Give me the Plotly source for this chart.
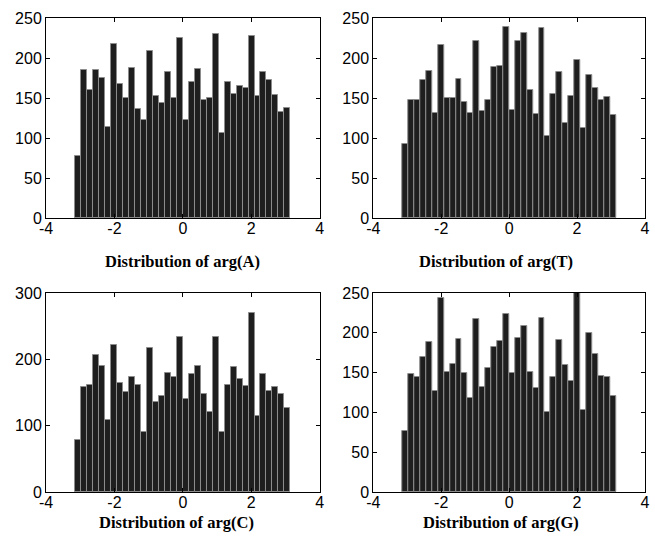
import numpy as np
import plotly.graph_objects as go
from plotly.subplots import make_subplots

# 36 histogram bins spanning [-pi, pi]
n_bins = 36
bin_edges = np.linspace(-np.pi, np.pi, n_bins + 1)
bin_centers = (bin_edges[:-1] + bin_edges[1:]) / 2
bin_width = bin_edges[1] - bin_edges[0]

counts_A = [78, 185, 160, 185, 175, 114, 217, 168, 150, 187, 136, 122,
            209, 153, 144, 182, 150, 225, 123, 170, 186, 147, 150, 230,
            106, 170, 155, 165, 163, 227, 152, 182, 173, 154, 133, 138]
counts_T = [92, 148, 147, 173, 184, 131, 216, 150, 150, 174, 145, 131,
            221, 134, 148, 189, 190, 239, 135, 221, 231, 160, 130, 237,
            103, 155, 182, 119, 153, 198, 112, 179, 162, 148, 151, 129]
counts_C = [79, 158, 161, 206, 190, 109, 221, 165, 151, 173, 161, 91,
            217, 136, 144, 180, 174, 234, 140, 178, 190, 147, 120, 233,
            90, 162, 188, 170, 160, 270, 114, 178, 153, 158, 147, 126]
counts_G = [77, 148, 144, 169, 189, 127, 244, 151, 161, 192, 149, 118,
            217, 132, 156, 182, 190, 223, 149, 194, 208, 151, 131, 218,
            100, 144, 191, 159, 140, 250, 103, 200, 173, 146, 145, 121]

titles = ["Distribution of arg(A)", "Distribution of arg(T)",
          "Distribution of arg(C)", "Distribution of arg(G)"]
y_ranges = [[0, 250], [0, 250], [0, 300], [0, 250]]
y_dticks = [50, 50, 100, 50]
x_ticks = [-4, -2, 0, 2, 4]

fig = make_subplots(rows=2, cols=2)
series = [counts_A, counts_T, counts_C, counts_G]
positions = [(1, 1), (1, 2), (2, 1), (2, 2)]

for s, (r, c) in zip(series, positions):
    fig.add_trace(go.Bar(
        x=bin_centers, y=s, width=bin_width,
        marker=dict(color="#1e1e1e", line=dict(color="#8c8c8c", width=1)),
        showlegend=False, hoverinfo="x+y"), row=r, col=c)

W, H = 655, 536
ml, mr, mt, mb = 45, 5, 18, 44
pw, ph = W - ml - mr, H - mt - mb
# panel pixel boxes: left 45..321, right 375..650 ; top 18..218, bottom 293..492
def xdom(a, b):
    return [(a - ml) / pw, (b - ml) / pw]
def ydom(top, bot):
    return [(H - mb - bot) / ph, (H - mb - top) / ph]
xd = [xdom(46, 322), xdom(376, 650)]
yd = [ydom(18, 218), ydom(293, 492)]

axis_font = dict(family="Liberation Sans, Arial, sans-serif", size=16, color="black")
for i, (r, c) in enumerate(positions):
    k = "" if i == 0 else str(i + 1)
    fig.layout["xaxis" + k].update(
        domain=xd[c - 1], range=[-4, 4], tickvals=x_ticks,
        ticktext=[str(v) for v in x_ticks],
        showline=True, linecolor="black", linewidth=1, mirror="ticks",
        ticks="inside", ticklen=4, tickcolor="black", ticklabelstandoff=-4,
        ticklabeloverflow="allow",
        showgrid=False, zeroline=False, tickfont=axis_font)
    fig.layout["yaxis" + k].update(
        domain=yd[r - 1], range=y_ranges[i], dtick=y_dticks[i],
        showline=True, linecolor="black", linewidth=1, mirror="ticks",
        ticks="inside", ticklen=4, tickcolor="black",
        showgrid=False, zeroline=False, tickfont=axis_font)

title_pos = [(184, 261), (500, 261), (178, 522), (505, 522)]
for t, (px, py) in zip(titles, title_pos):
    fig.add_annotation(
        text="<b>" + t + "</b>", xref="paper", yref="paper",
        x=(px - ml) / pw, y=(H - mb - py) / ph,
        showarrow=False, xanchor="center", yanchor="middle",
        font=dict(family="Liberation Serif, Times New Roman, serif", size=16.5, color="black"))

fig.update_layout(
    width=W, height=H, bargap=0,
    margin=dict(l=ml, r=mr, t=mt, b=mb),
    paper_bgcolor="white", plot_bgcolor="white")

fig.write_html(
    "out.html",
    config={"displayModeBar": False},
    post_script="document.body.style.margin='0px';document.body.style.overflow='hidden';")
